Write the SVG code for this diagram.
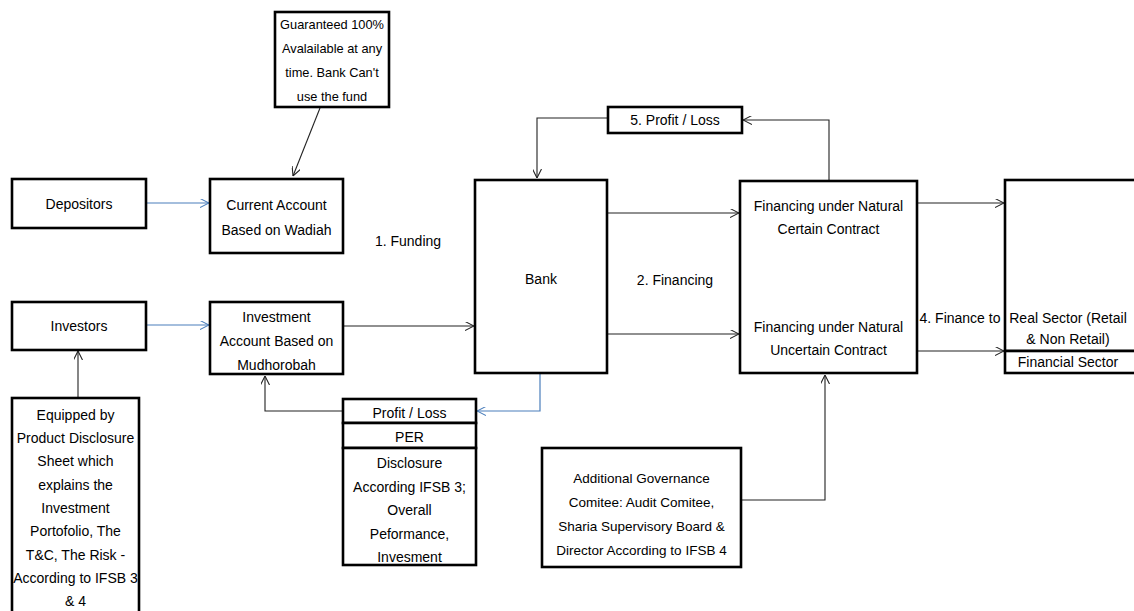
<svg xmlns="http://www.w3.org/2000/svg" width="1134" height="611" viewBox="0 0 1134 611">
<defs>
<marker id="ah" viewBox="0 0 10 10" refX="10" refY="5" markerWidth="9" markerHeight="9" markerUnits="userSpaceOnUse" orient="auto"><path d="M0,0 L10,5 L0,10" fill="none" stroke="#222" stroke-width="1.2"/></marker>
<marker id="ahb" viewBox="0 0 10 10" refX="10" refY="5" markerWidth="9" markerHeight="9" markerUnits="userSpaceOnUse" orient="auto"><path d="M0,0 L10,5 L0,10" fill="none" stroke="#4a7ebb" stroke-width="1.2"/></marker>
</defs>
<style>
.box{fill:#fff;stroke:#000;stroke-width:2.6}
.t{font-family:"Liberation Sans",Arial,sans-serif;font-size:14px;fill:#000;text-anchor:middle}
.s{font-size:13.5px}
.n{font-size:12.8px}
.c{fill:none;stroke:#222;stroke-width:1.1;marker-end:url(#ah)}
.cb{fill:none;stroke:#4a7ebb;stroke-width:1.2;marker-end:url(#ahb)}
</style>
<rect width="1134" height="611" fill="#fff"/>
<g id="connectors">
<path class="c" d="M320,108 L293,176"/>
<path class="cb" d="M146,203 L209,203"/>
<path class="cb" d="M146,325 L209,325"/>
<path class="c" d="M343,326 L474,326"/>
<path class="c" d="M78,398 L78,351"/>
<path class="c" d="M343,411 L265,411 L265,376"/>
<path class="cb" d="M540,374 L540,411 L477,411"/>
<path class="c" d="M608,118 L537,118 L537,178"/>
<path class="c" d="M829,181 L829,120 L743,120"/>
<path class="c" d="M607,213 L739,213"/>
<path class="c" d="M607,334 L739,334"/>
<path class="c" d="M917,203 L1004,203"/>
<path class="c" d="M917,351 L1004,351"/>
<path class="c" d="M741,500 L825,500 L825,375"/>
</g>
<g id="note-guaranteed">
<rect class="box" x="275" y="12" width="114" height="95"/>
<text class="t n" x="332" y="29">Guaranteed 100%</text>
<text class="t n" x="332" y="53">Avalailable at any</text>
<text class="t n" x="332" y="77">time. Bank Can't</text>
<text class="t n" x="332" y="101">use the fund</text>
</g>
<g id="depositors">
<rect class="box" x="12" y="179" width="134" height="49"/>
<text class="t" x="79" y="209">Depositors</text>
</g>
<g id="current-account">
<rect class="box" x="210" y="179" width="133" height="74"/>
<text class="t" x="276.5" y="210">Current Account</text>
<text class="t" x="276.5" y="235">Based on Wadiah</text>
</g>
<g id="investors">
<rect class="box" x="12" y="302" width="134" height="48"/>
<text class="t" x="79" y="331">Investors</text>
</g>
<g id="investment-account">
<rect class="box" x="210" y="302" width="133" height="72"/>
<text class="t" x="276.5" y="322">Investment</text>
<text class="t" x="276.5" y="346">Account Based on</text>
<text class="t" x="276.5" y="370">Mudhorobah</text>
</g>
<g id="product-disclosure">
<rect class="box" x="12" y="398" width="127" height="230"/>
<text class="t" x="75.5" y="420">Equipped by</text>
<text class="t" x="75.5" y="443">Product Disclosure</text>
<text class="t" x="75.5" y="466">Sheet which</text>
<text class="t" x="75.5" y="490">explains the</text>
<text class="t" x="75.5" y="513">Investment</text>
<text class="t" x="75.5" y="536">Portofolio, The</text>
<text class="t" x="75.5" y="560">T&amp;C, The Risk -</text>
<text class="t" x="75.5" y="583">According to IFSB 3</text>
<text class="t" x="75.5" y="606">&amp; 4</text>
</g>
<g id="label-funding">
<text class="t" x="408" y="246">1. Funding</text>
</g>
<g id="bank">
<rect class="box" x="475" y="180" width="132" height="193"/>
<text class="t" x="541" y="284">Bank</text>
</g>
<g id="profit-loss-stack">
<rect class="box" x="343" y="399" width="133" height="24"/>
<text class="t" x="409.5" y="418">Profit / Loss</text>
<rect class="box" x="343" y="423" width="133" height="25"/>
<text class="t" x="409.5" y="442">PER</text>
<rect class="box" x="343" y="448" width="133" height="117"/>
<text class="t" x="409.5" y="468">Disclosure</text>
<text class="t" x="409.5" y="492">According IFSB 3;</text>
<text class="t" x="409.5" y="515">Overall</text>
<text class="t" x="409.5" y="539">Peformance,</text>
<text class="t" x="409.5" y="562">Invesment</text>
</g>
<g id="profit-loss-top">
<rect class="box" x="608" y="107" width="134" height="26"/>
<text class="t" x="675" y="125">5. Profit / Loss</text>
</g>
<g id="label-financing">
<text class="t" x="675" y="285">2. Financing</text>
</g>
<g id="financing">
<rect class="box" x="740" y="181" width="177" height="192"/>
<text class="t" x="828.5" y="211">Financing under Natural</text>
<text class="t" x="828.5" y="234">Certain Contract</text>
<text class="t" x="828.5" y="332">Financing under Natural</text>
<text class="t" x="828.5" y="355">Uncertain Contract</text>
</g>
<g id="label-finance-to">
<text class="t" x="960" y="323">4. Finance to</text>
</g>
<g id="sectors">
<rect class="box" x="1005" y="180" width="140" height="171"/>
<rect class="box" x="1005" y="351" width="140" height="22"/>
<text class="t" x="1068" y="323">Real Sector (Retail</text>
<text class="t" x="1068" y="344">&amp; Non Retail)</text>
<text class="t" x="1068" y="367">Financial Sector</text>
</g>
<g id="governance">
<rect class="box" x="542" y="448" width="199" height="119"/>
<text class="t s" x="641.5" y="483">Additional Governance</text>
<text class="t s" x="641.5" y="507">Comitee: Audit Comitee,</text>
<text class="t s" x="641.5" y="531">Sharia Supervisory Board &amp;</text>
<text class="t s" x="641.5" y="555">Director According to IFSB 4</text>
</g>
</svg>
